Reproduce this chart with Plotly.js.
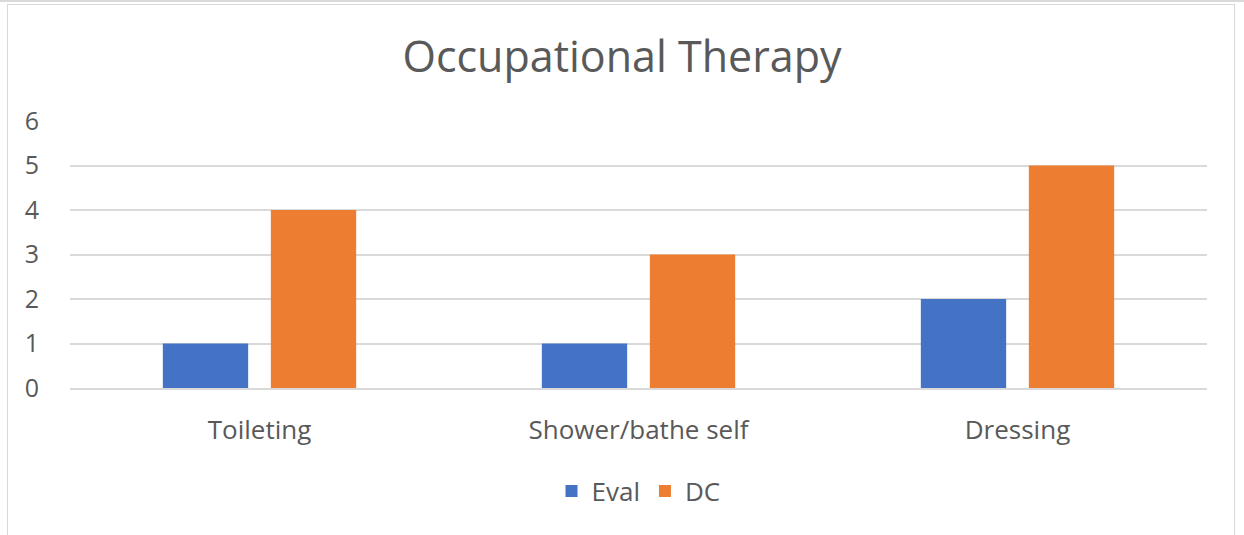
<!DOCTYPE html>
<html><head><meta charset="utf-8">
<script src="https://cdn.plot.ly/plotly-3.0.1.min.js"></script>
<style>
html,body{margin:0;padding:0;background:#fff;}
#wrap{position:relative;width:1244px;height:535px;}
#chart{position:absolute;left:0;top:0;width:1244px;height:535px;}
#frame{position:absolute;left:7px;top:4px;width:1228px;height:532px;border:1px solid #d9d9d9;border-bottom:none;pointer-events:none;box-sizing:border-box;}
#topline{position:absolute;left:0;top:0;width:1244px;height:2px;background:#d9d9d9;pointer-events:none;}
</style></head>
<body><div id="wrap"><div id="chart"></div><div id="topline"></div><div id="frame"></div></div>
<script>
const categories = ["Toileting", "Shower/bathe self", "Dressing"];
const evalValues = [1, 1, 2];
const dcValues = [4, 3, 5];
const seriesNames = ["Eval", "DC"];

const font = "'Open Sans', Lato, sans-serif";
const data = [
  {type:"bar", name:seriesNames[0], x:categories, y:evalValues, marker:{color:"#4472C4"}},
  {type:"bar", name:seriesNames[1], x:categories, y:dcValues, marker:{color:"#ED7D31"}}
];
const layout = {
  width:1244, height:535,
  margin:{l:70, r:37, t:121, b:147},
  paper_bgcolor:"rgba(0,0,0,0)", plot_bgcolor:"#fff",
  barmode:"group", bargap:0.43, bargroupgap:0.21,
  title:{text:"Occupational Therapy", x:0.5, xanchor:"center", y:1-57/535, yanchor:"middle",
    font:{family:font, size:43, color:"#595959"}},
  xaxis:{type:"category", showgrid:false, zeroline:false, showline:true, linecolor:"#d9d9d9", linewidth:2,
    ticks:"", tickfont:{family:font, size:26, color:"#595959"}, ticklabelstandoff:18},
  yaxis:{range:[0,6], dtick:1, showgrid:true, gridcolor:"#d9d9d9", gridwidth:2, zeroline:false, showline:false,
    ticks:"", tickfont:{family:font, size:25, color:"#595959"}, ticklabelstandoff:30},
  showlegend:true,
  legend:{orientation:"h", x:0.5, xanchor:"center", y:-0.386, yanchor:"middle",
    font:{family:font, size:26, color:"#595959"}, itemwidth:30, tracegroupgap:0}
};
Plotly.newPlot("chart", data, layout, {staticPlot:true});
</script></body></html>
